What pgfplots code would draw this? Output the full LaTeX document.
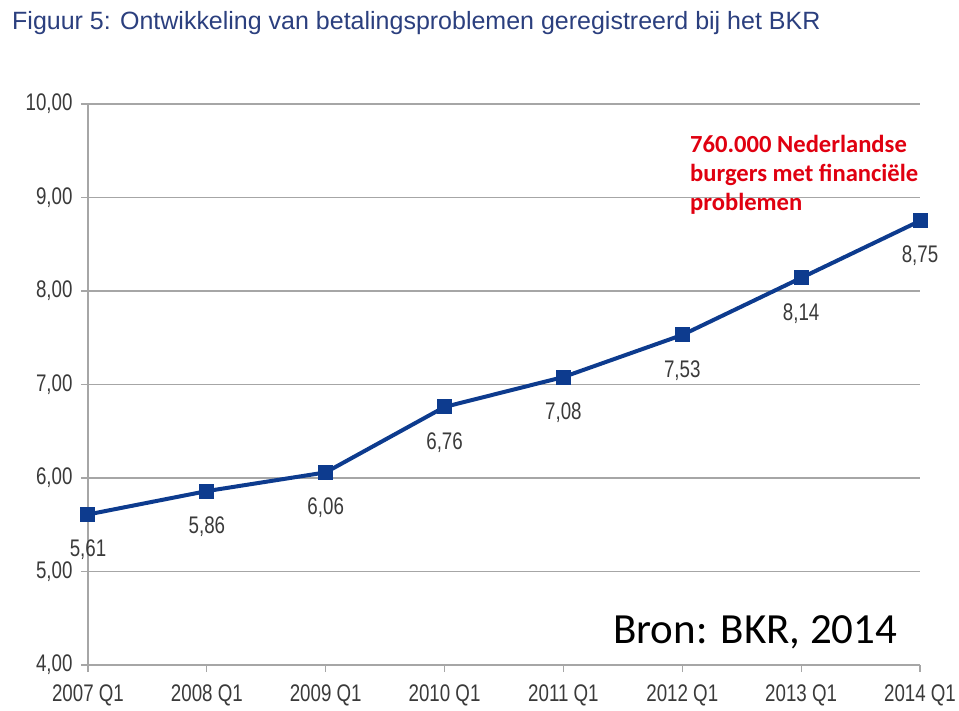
\documentclass[border=0pt]{standalone}
\usepackage{pgfplots}
\pgfplotsset{compat=1.18}
\usepackage{fontspec}
\setmainfont{Liberation Sans}
\newfontfamily\narrow[FakeStretch=0.78]{Liberation Sans}
\newfontfamily\carl{Carlito}
\definecolor{lineblue}{HTML}{0D3B8E}
\definecolor{titleblue}{HTML}{2B3F7E}
\definecolor{gridgray}{HTML}{A6A6A6}
\definecolor{labgray}{HTML}{3A3A3A}
\definecolor{annred}{HTML}{E00010}
\begin{document}
\begin{tikzpicture}
\path[use as bounding box] (0,0) rectangle (959pt,-711pt);
\begin{axis}[
  at={(88pt,-665pt)}, anchor=south west,
  scale only axis, width=832pt, height=561pt,
  xmin=0, xmax=7, ymin=4, ymax=10,
  axis x line*=bottom, axis y line*=left,
  axis line style={draw=gridgray, line width=1.2pt, -},
  ytick={4,5,6,7,8,9,10},
  xtick={0,1,2,3,4,5,6,7},
  xticklabels={2007 Q1,2008 Q1,2009 Q1,2010 Q1,2011 Q1,2012 Q1,2013 Q1,2014 Q1},
  ymajorgrids, grid style={gridgray, line width=1.2pt},
  tick style={gridgray, line width=1.2pt},
  major tick length=7pt, tick align=outside,
  /pgf/number format/.cd, assume math mode=true, use comma, fixed, fixed zerofill, precision=2,
  /pgfplots/.cd,
  ticklabel style={font=\narrow\fontsize{24}{24}\selectfont, text=labgray},
  yticklabel style={xshift=-5pt},
  xticklabel style={yshift=-9pt},
  nodes near coords,
  every node near coord/.append style={font=\narrow\fontsize{24}{24}\selectfont, text=labgray, anchor=north, yshift=-22pt},
]
\addplot[lineblue, line width=4pt, mark=square*, mark size=7pt, mark options={fill=lineblue, draw=lineblue, line width=0pt}] coordinates {
(0,5.61) (1,5.86) (2,6.06) (3,6.76) (4,7.08) (5,7.53) (6,8.14) (7,8.75)};
\end{axis}
\node[anchor=base west, inner sep=0, text=titleblue, font=\fontsize{25}{25}\selectfont] at (12pt,-30pt) {Figuur 5: Ontwikkeling van betalingsproblemen geregistreerd bij het BKR};
\node[anchor=base west, inner sep=0, text=annred, font=\carl\bfseries\fontsize{24.6}{24.6}\selectfont] at (690pt,-153pt) {760.000 Nederlandse};
\node[anchor=base west, inner sep=0, text=annred, font=\carl\bfseries\fontsize{24.6}{24.6}\selectfont] at (690pt,-182pt) {burgers met financiële};
\node[anchor=base west, inner sep=0, text=annred, font=\carl\bfseries\fontsize{24.6}{24.6}\selectfont] at (690pt,-211pt) {problemen};
\node[anchor=base west, inner sep=0, text=black, font=\carl\fontsize{43}{43}\selectfont] at (613pt,-643pt) {Bron: BKR, 2014};
\end{tikzpicture}
\end{document}
